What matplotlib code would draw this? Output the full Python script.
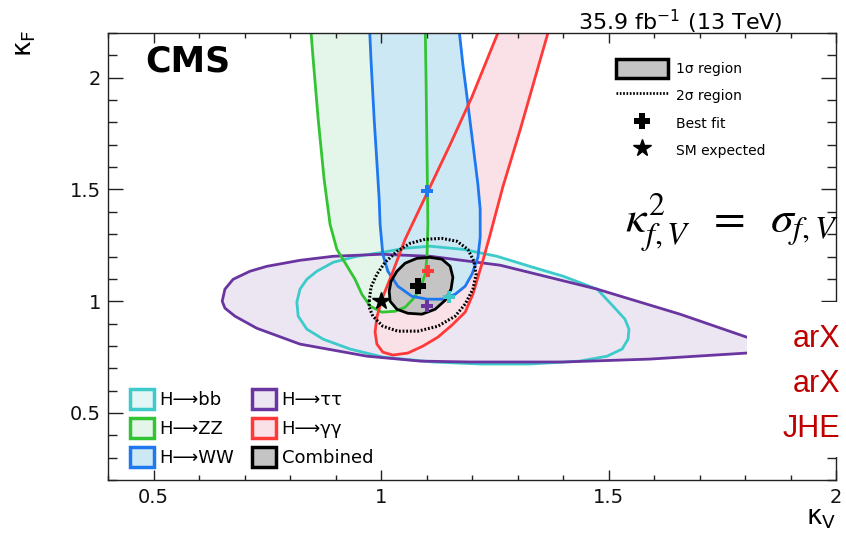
import matplotlib
matplotlib.use("Agg")
import matplotlib.pyplot as plt
from matplotlib.patches import Patch, Rectangle
from matplotlib.lines import Line2D
from matplotlib.ticker import MultipleLocator, FixedLocator, FixedFormatter

plt.rcParams['font.family'] = ['DejaVu Sans']

# ---------------- data (kappa_V, kappa_F) ----------------
tautau_kv = [0.651, 0.657, 0.675, 0.712, 0.749, 0.822, 0.895, 1.000, 1.108, 1.262, 1.475, 1.657,
             1.804, 1.921, 1.804, 1.591, 1.400, 1.196, 1.086, 0.969, 0.822, 0.727, 0.679, 0.657]
tautau_kf = [1.000, 1.054, 1.098, 1.134, 1.156, 1.183, 1.201, 1.210, 1.201, 1.161, 1.054, 0.942,
             0.839, 0.781, 0.768, 0.741, 0.728, 0.728, 0.732, 0.754, 0.808, 0.879, 0.933, 0.969]

bb_kv = [0.815, 0.818, 0.837, 0.873, 0.932, 1.004, 1.114, 1.218, 1.327, 1.437, 1.497, 1.530,
         1.543, 1.545, 1.536, 1.510, 1.475, 1.400, 1.327, 1.255, 1.180, 1.108, 1.053, 1.004,
         0.947, 0.895, 0.859, 0.837, 0.822]
bb_kf = [0.996, 0.933, 0.875, 0.830, 0.786, 0.750, 0.728, 0.719, 0.719, 0.732, 0.754, 0.786,
         0.830, 0.875, 0.920, 0.978, 1.054, 1.112, 1.156, 1.201, 1.232, 1.246, 1.237, 1.219,
         1.201, 1.174, 1.134, 1.098, 1.054]

zz_kv = [0.844, 0.851, 0.862, 0.875, 0.888, 0.903, 0.923, 0.943, 0.958, 0.976, 1.002, 1.031,
         1.053, 1.070, 1.086, 1.097, 1.101, 1.103, 1.101, 1.099, 1.097]
zz_kf = [2.259, 2.080, 1.813, 1.545, 1.344, 1.232, 1.165, 1.098, 1.031, 0.978, 0.951, 0.955,
         0.973, 1.009, 1.054, 1.121, 1.196, 1.344, 1.679, 1.991, 2.259]

ww_kv = [0.974, 0.978, 0.985, 0.991, 0.996, 0.998, 1.004, 1.015, 1.037, 1.068, 1.101, 1.134,
         1.163, 1.185, 1.200, 1.213, 1.218, 1.218, 1.213, 1.207, 1.198, 1.189, 1.180, 1.174, 1.169]
ww_kf = [2.259, 2.080, 1.813, 1.621, 1.455, 1.344, 1.210, 1.134, 1.067, 1.022, 1.009, 1.009,
         1.031, 1.067, 1.121, 1.196, 1.286, 1.411, 1.522, 1.621, 1.768, 1.915, 2.058, 2.170, 2.259]

gg_kv = [1.273, 1.257, 1.200, 1.152, 1.103, 1.053, 1.024, 1.002, 0.991, 0.987, 0.991, 1.004,
         1.026, 1.059, 1.092, 1.125, 1.156, 1.185, 1.202, 1.215, 1.226, 1.240, 1.268, 1.306,
         1.367, 1.376]
gg_kf = [2.259, 2.201, 1.915, 1.701, 1.491, 1.277, 1.121, 1.009, 0.929, 0.862, 0.808, 0.772,
         0.759, 0.768, 0.799, 0.839, 0.893, 0.951, 1.031, 1.121, 1.196, 1.299, 1.513, 1.768,
         2.201, 2.259]

comb1_kv = [1.018, 1.022, 1.035, 1.053, 1.079, 1.108, 1.134, 1.152, 1.158, 1.154, 1.141, 1.119,
            1.090, 1.059, 1.035, 1.020]
comb1_kf = [1.045, 1.089, 1.134, 1.170, 1.192, 1.196, 1.188, 1.156, 1.107, 1.054, 1.004, 0.964,
            0.942, 0.946, 0.964, 1.000]

comb2_kv = [0.974, 0.978, 0.991, 1.009, 1.035, 1.064, 1.097, 1.134, 1.167, 1.191, 1.204, 1.209,
            1.202, 1.185, 1.163, 1.125, 1.081, 1.037, 1.004, 0.982, 0.974, 0.974]
comb2_kf = [1.000, 1.063, 1.121, 1.174, 1.223, 1.259, 1.277, 1.281, 1.268, 1.232, 1.179, 1.121,
            1.054, 0.987, 0.933, 0.888, 0.866, 0.866, 0.888, 0.933, 0.973, 1.000]

best_names = ["bb", "tautau", "WW", "gg", "comb"]
best_kv = [1.150, 1.101, 1.101, 1.103, 1.081]
best_kf = [1.018, 0.978, 1.491, 1.134, 1.067]
sm_kv = [1.0]
sm_kf = [1.0]

xticks = [0.5, 1.0, 1.5, 2.0]
xtick_labels = ["0.5", "1", "1.5", "2"]
yticks = [0.5, 1.0, 1.5, 2.0]
ytick_labels = ["0.5", "1", "1.5", "2"]

# ---------------- style ----------------
col = {
    "bb": ("#3ccaca", "#e2f6f6"),
    "tautau": ("#6a35a0", "#ece6f2"),
    "ZZ": ("#33c433", "#e4f5e9"),
    "WW": ("#1e78f0", "#cde8f5"),
    "gg": ("#ff3838", "#fae0e7"),
    "comb": ("#000000", "#c4c4c4"),
}

fig = plt.figure(figsize=(8.46, 5.33), dpi=100)
ax = fig.add_axes([108/846, 53/533, 728/846, 447/533])
ax.set_xlim(0.4, 2.0)
ax.set_ylim(0.2, 2.2)

lw = 2.0
# fills
ax.fill(bb_kv, bb_kf, facecolor=col["bb"][1], edgecolor="none", zorder=1)
ax.fill(tautau_kv, tautau_kf, facecolor=col["tautau"][1], edgecolor="none", zorder=1.1)
ax.fill(gg_kv, gg_kf, facecolor=col["gg"][1], edgecolor="none", zorder=1.2)
ax.fill(zz_kv, zz_kf, facecolor=col["ZZ"][1], edgecolor="none", zorder=1.3)
ax.fill(ww_kv, ww_kf, facecolor=col["WW"][1], edgecolor="none", zorder=1.4)
ax.fill(comb1_kv, comb1_kf, facecolor=col["comb"][1], edgecolor="none", zorder=1.5)

# outlines
ax.fill(bb_kv, bb_kf, facecolor="none", edgecolor=col["bb"][0], lw=lw, zorder=2,
        joinstyle="round")
ax.fill(tautau_kv, tautau_kf, facecolor="none", edgecolor=col["tautau"][0], lw=lw, zorder=2.1,
        joinstyle="round")
ax.plot(zz_kv, zz_kf, color=col["ZZ"][0], lw=lw, zorder=2.2, solid_joinstyle="round")
ax.plot(ww_kv, ww_kf, color=col["WW"][0], lw=lw, zorder=2.3, solid_joinstyle="round")
ax.plot(gg_kv, gg_kf, color=col["gg"][0], lw=lw, zorder=2.4, solid_joinstyle="round")
ax.fill(comb1_kv, comb1_kf, facecolor="none", edgecolor="black", lw=lw, zorder=2.6,
        joinstyle="round")
ax.plot(comb2_kv, comb2_kf, color="black", lw=2.2, ls=(0, (0.6, 0.6)), zorder=2.5)

# best fits
for name, kv, kf in zip(best_names, best_kv, best_kf):
    c = col[name][0]
    ms = 11 if name == "comb" else 9
    ax.plot([kv], [kf], marker="P", color=c, ms=ms, mew=0, ls="none", zorder=3)
ax.plot(sm_kv, sm_kf, marker="*", color="black", ms=13, ls="none", zorder=3.1)

# axes styling
for s in ax.spines.values():
    s.set_linewidth(1.0)
    s.set_color("#222222")
ax.xaxis.set_major_locator(FixedLocator(xticks))
ax.xaxis.set_major_formatter(FixedFormatter(xtick_labels))
ax.yaxis.set_major_locator(FixedLocator(yticks))
ax.yaxis.set_major_formatter(FixedFormatter(ytick_labels))
ax.xaxis.set_minor_locator(MultipleLocator(0.1))
ax.yaxis.set_minor_locator(MultipleLocator(0.1))
ax.tick_params(which="both", direction="in", top=True, right=True, colors="#222222",
               labelsize=14, width=1.0)
ax.tick_params(axis="x", which="major", length=7.2, pad=6)
ax.tick_params(axis="x", which="minor", length=3.6)
ax.tick_params(axis="y", which="major", length=10.8, pad=5)
ax.tick_params(axis="y", which="minor", length=6.5)
for t in ax.get_xticklabels() + ax.get_yticklabels():
    t.set_color("#111111")

# axis titles
fig.text(25/846, 1 - 30/533, "κ$_{\\mathrm{F}}$", rotation=90, ha="center", va="top",
         fontsize=19)
fig.text(836/846, 1 - 505/533, "κ$_{\\mathrm{V}}$", ha="right", va="top", fontsize=19)

# CMS + lumi
ax.text((145-108)/728, (480-72)/447, "CMS", transform=ax.transAxes, fontsize=25,
        fontweight="bold", ha="left", va="baseline")
fig.text(783/846, 1 - 30/533, "35.9 fb$^{-1}$ (13 TeV)", ha="right", va="baseline",
         fontsize=16)

# legend (channels)
h_ch = [
    Patch(facecolor=col["bb"][1], edgecolor=col["bb"][0], lw=2.5, label="H⟶bb"),
    Patch(facecolor=col["ZZ"][1], edgecolor=col["ZZ"][0], lw=2.5, label="H⟶ZZ"),
    Patch(facecolor=col["WW"][1], edgecolor=col["WW"][0], lw=2.5, label="H⟶WW"),
    Patch(facecolor=col["tautau"][1], edgecolor=col["tautau"][0], lw=2.5, label="H⟶ττ"),
    Patch(facecolor=col["gg"][1], edgecolor=col["gg"][0], lw=2.5, label="H⟶γγ"),
    Patch(facecolor=col["comb"][1], edgecolor="black", lw=2.5, label="Combined"),
]
leg1 = ax.legend(handles=h_ch, ncol=2, loc="upper left",
                 bbox_to_anchor=((130-108)/728, (480-389)/447),
                 frameon=False, fontsize=13, borderpad=0, borderaxespad=0,
                 handlelength=1.33, handleheight=1.33, handletextpad=0.3,
                 labelspacing=0.5, columnspacing=1.0)
ax.add_artist(leg1)

# legend (regions)
h_reg = [
    Patch(facecolor=col["comb"][1], edgecolor="black", lw=2.5, label="1σ region"),
    Line2D([], [], color="black", lw=2.0, ls=(0, (0.6, 0.6)), label="2σ region"),
    Line2D([], [], color="black", marker="P", ms=11, mew=0, ls="none", label="Best fit"),
    Line2D([], [], color="black", marker="*", ms=13, ls="none", label="SM expected"),
]
leg2 = ax.legend(handles=h_reg, loc="upper left",
                 bbox_to_anchor=((616-108)/728, (480-59)/447),
                 frameon=False, fontsize=10, borderpad=0, borderaxespad=0,
                 handlelength=3.75, handleheight=1.72, handletextpad=0.6,
                 labelspacing=0.6, numpoints=1)

# slide overlays
fig.text(625/846, 1 - 233/533, r"$\kappa_{f,V}^{2}\;\;=\;\;\sigma_{f,V}$",
         fontsize=33, math_fontfamily="stix", ha="left", va="baseline", zorder=6)
fig.patches.append(Rectangle((747/846, 1 - 457/533), 1 - 747/846, (457-302)/533,
                             transform=fig.transFigure, facecolor="white",
                             edgecolor="none", zorder=5))
for txt, x0, yb in [("arX", 793, 347), ("arX", 793, 392), ("JHE", 783, 437)]:
    fig.text(x0/846, 1 - yb/533, txt, color="#c00000", fontsize=22,
             family="Liberation Sans", ha="left", va="baseline", zorder=6)

fig.savefig("out.png", dpi=100)
